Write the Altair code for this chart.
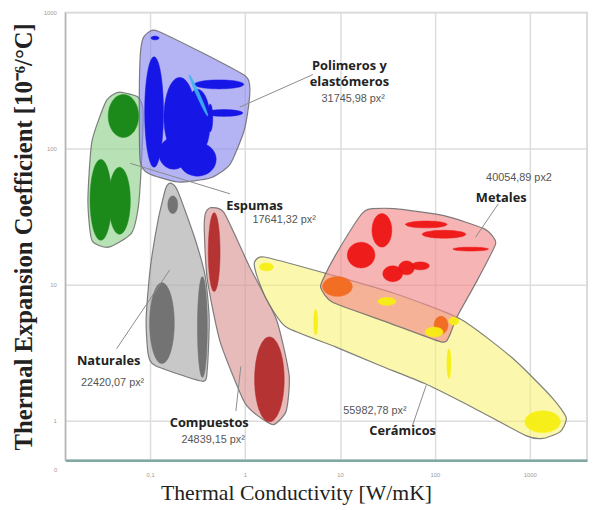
import math
import altair as alt
import pandas as pd

# ------------------------------------------------------------------
# Data: log10 of thermal conductivity k [W/mK] and log10 of thermal
# expansion coefficient alpha [1e-6/°C]
# ------------------------------------------------------------------

# Family envelopes (outline vertices)
foams_lk = [-1.301, -1.125, -1.073, -1.094, -1.125, -1.197, -1.436, -1.613, -1.655, -1.613, -1.468, -1.384]
foams_la = [2.413, 2.377, 2.268, 1.855, 1.565, 1.377, 1.275, 1.326, 1.616, 2.051, 2.341, 2.399]

polymers_lk = [-1.000, -1.073, -1.104, -1.114, -1.104, -1.021, -0.709, -0.366, -0.158, -0.013, 0.039, 0.049, -0.003, -0.449, -0.917]
polymers_la = [2.862, 2.812, 2.681, 2.304, 1.906, 1.819, 1.754, 1.783, 1.884, 2.123, 2.319, 2.464, 2.536, 2.703, 2.862]

naturals_lk = [-0.782, -0.709, -0.532, -0.418, -0.377, -0.397, -0.449, -0.948, -1.021, -1.042, -1.000, -0.917, -0.834]
naturals_la = [1.746, 1.688, 1.348, 1.058, 0.746, 0.384, 0.290, 0.406, 0.493, 0.746, 1.109, 1.471, 1.710]

composites_lk = [-0.366, -0.221, 0.049, 0.330, 0.465, 0.434, 0.299, 0.122, -0.013, -0.262, -0.397, -0.429, -0.418]
composites_la = [1.565, 1.529, 1.130, 0.746, 0.333, 0.072, -0.029, 0.043, 0.145, 0.580, 1.036, 1.399, 1.522]

ceramics_lk = [0.101, 0.205, 0.829, 1.577, 2.273, 2.823, 3.239, 3.384, 3.322, 3.135, 2.958, 2.408, 1.888, 1.421, 0.953, 0.434, 0.226, 0.122]
ceramics_la = [1.167, 1.203, 1.087, 0.935, 0.746, 0.457, 0.167, 0.022, -0.080, -0.130, -0.109, 0.094, 0.275, 0.406, 0.543, 0.688, 0.891, 1.072]

metals_lk = [1.338, 1.577, 2.096, 2.512, 2.616, 2.636, 2.439, 2.231, 2.148, 2.065, 1.494, 0.922, 0.797, 0.829, 0.953, 1.192, 1.265]
metals_la = [1.558, 1.558, 1.507, 1.413, 1.348, 1.290, 1.022, 0.761, 0.616, 0.580, 0.725, 0.870, 0.978, 1.051, 1.217, 1.486, 1.543]

# Individual materials (ellipses): centre, half ranges (decades), tilt
ell_group = (["Polimeros"] * 9 + ["Polimeros claro"] + ["Espumas"] * 3 + ["Naturales"] * 3
             + ["Compuestos"] * 2 + ["Metales"] * 8 + ["Metales/Ceramicos"] * 2 + ["Ceramicos"] * 7)
ell_lk = [-0.948, -0.958, -0.688, -0.501, -0.501, -0.751, -0.273, -0.221, -0.366,
          -0.491,
          -1.281, -1.519, -1.322,
          -0.761, -0.875, -0.449,
          -0.325, 0.257,
          1.442, 1.223, 1.909, 2.096, 2.377, 1.556, 1.701, 1.847,
          0.974, 2.065,
          0.226, 1.494, 1.992, 2.200, 0.745, 2.148, 3.135]
ell_la = [2.812, 2.268, 2.232, 2.196, 1.920, 1.964, 2.471, 2.261, 2.225,
          2.391,
          2.239, 1.623, 1.616,
          1.587, 0.717, 0.688,
          1.239, 0.304,
          1.399, 1.217, 1.442, 1.370, 1.261, 1.080, 1.123, 1.138,
          0.986, 0.703,
          1.130, 0.877, 0.652, 0.732, 0.725, 0.420, -0.007]
ell_hk = [0.042, 0.099, 0.166, 0.135, 0.197, 0.156, 0.260, 0.197, 0.026,
          0.099,
          0.160, 0.114, 0.114,
          0.052, 0.130, 0.052,
          0.062, 0.156,
          0.104, 0.145, 0.218, 0.229, 0.187, 0.104, 0.083, 0.094,
          0.156, 0.073,
          0.073, 0.094, 0.094, 0.052, 0.021, 0.021, 0.187]
ell_ha = [0.014, 0.406, 0.290, 0.239, 0.123, 0.116, 0.033, 0.025, 0.101,
          0.029,
          0.158, 0.297, 0.246,
          0.065, 0.297, 0.370,
          0.290, 0.312,
          0.123, 0.094, 0.025, 0.029, 0.014, 0.058, 0.051, 0.029,
          0.072, 0.065,
          0.029, 0.029, 0.036, 0.029, 0.094, 0.109, 0.080]
ell_tilt = [0.0] * 9 + [-1.51] + [0.0] * 25

# Annotations
label_names = ["Polimeros y", "elastómeros", "Espumas", "Metales", "Naturales", "Compuestos", "Cerámicos"]
label_lk = [1.099, 1.099, 0.101, 2.699, -1.436, -0.377, 1.660]
label_la = [2.609, 2.486, 1.580, 1.638, 0.435, -0.014, -0.072]

area_texts = ["31745,98 px²", "17641,32 px²", "40054,89 px2", "22420,07 px²", "24839,15 px²", "55982,78 px²"]
area_lk = [1.140, 0.413, 2.886, -1.395, -0.335, 1.369]
area_la = [2.362, 1.471, 1.783, 0.275, -0.145, 0.072]

leader_lk1 = [-0.055, -1.208, 2.429, -1.353, -0.096, 1.764]
leader_la1 = [2.304, 1.891, 1.348, 0.529, 0.072, -0.036]
leader_lk2 = [0.714, -0.158, 2.668, -0.792, -0.044, 1.909]
leader_la2 = [2.543, 1.667, 1.594, 1.109, 0.399, 0.261]

x_ticks = [0.1, 1, 10, 100, 1000]
y_ticks = [1, 10, 100, 1000]

# ------------------------------------------------------------------
# Styles
# ------------------------------------------------------------------
ENV_FILL = {
    "Espumas": ("#9ed69a", 0.72),
    "Polimeros": ("#8c8cf0", 0.65),
    "Naturales": ("#b0b0b0", 0.70),
    "Compuestos": ("#dc9696", 0.65),
    "Ceramicos": ("#f7f26a", 0.55),
    "Metales": ("#f28c8c", 0.65),
}
ELL_COLOR = {
    "Polimeros": ("#1616e6", 1.0),
    "Polimeros claro": ("#3fb4f2", 0.9),
    "Espumas": ("#1b8a1b", 1.0),
    "Naturales": ("#6f6f6f", 0.95),
    "Compuestos": ("#b32b2b", 0.95),
    "Metales": ("#ee1414", 0.95),
    "Metales/Ceramicos": ("#f06a1e", 0.95),
    "Ceramicos": ("#f6ee12", 0.95),
}

# ------------------------------------------------------------------
# Tables
# ------------------------------------------------------------------
envelopes = [
    ("Espumas", foams_lk, foams_la),
    ("Polimeros", polymers_lk, polymers_la),
    ("Naturales", naturals_lk, naturals_la),
    ("Compuestos", composites_lk, composites_la),
    ("Ceramicos", ceramics_lk, ceramics_la),
    ("Metales", metals_lk, metals_la),
]
env_rows = []
for g, lks, las in envelopes:
    for i, (lk, la) in enumerate(zip(lks, las)):
        env_rows.append({"g": g, "i": i, "k": 10 ** lk, "a": 10 ** la})
env_df = pd.DataFrame(env_rows)

N = 48
ell_rows = []
for j, g in enumerate(ell_group):
    col, op = ELL_COLOR[g]
    for n in range(N):
        t = 2 * math.pi * n / N
        lk = ell_lk[j] + ell_hk[j] * math.cos(t)
        la = ell_la[j] + ell_ha[j] * math.sin(t) + ell_tilt[j] * ell_hk[j] * math.cos(t)
        ell_rows.append({"id": j, "i": n, "g": g, "k": 10 ** lk, "a": 10 ** la, "col": col, "op": op})
ell_df = pd.DataFrame(ell_rows)

names_df = pd.DataFrame({"t": label_names, "k": [10 ** v for v in label_lk], "a": [10 ** v for v in label_la]})
areas_df = pd.DataFrame({"t": area_texts, "k": [10 ** v for v in area_lk], "a": [10 ** v for v in area_la]})
lead_df = pd.DataFrame({
    "k1": [10 ** v for v in leader_lk1], "a1": [10 ** v for v in leader_la1],
    "k2": [10 ** v for v in leader_lk2], "a2": [10 ** v for v in leader_la2],
})

# ------------------------------------------------------------------
# Scales & axes
# ------------------------------------------------------------------
W, H = 529, 454
xs = alt.Scale(type="log", domain=[10 ** -1.894, 10 ** 3.603], nice=False)
ys = alt.Scale(type="log", domain=[10 ** -0.29, 1000], nice=False)

x_axis = alt.Axis(
    values=x_ticks,
    labelExpr="datum.value < 0.5 ? '0,1' : format(datum.value, 'd')",
    ticks=False, labelFontSize=6, labelColor="#9a9a9a", labelPadding=11,
    grid=True, gridColor="#dddddd", gridWidth=1.5,
    domainColor="#7fa8a0", domainWidth=2.5,
    title="Thermal Conductivity [W/mK]", titleFont="Liberation Serif", titleFontSize=22,
    titleFontWeight="normal", titleColor="#222222", titleX=234, titleY=40,
    titleBaseline="alphabetic", titleAlign="center",
)
y_axis = alt.Axis(
    values=y_ticks, labelExpr="format(datum.value, 'd')",
    ticks=False, labelFontSize=6, labelColor="#9a9a9a", labelPadding=9,
    grid=True, gridColor="#dddddd", gridWidth=1.5,
    domainColor="#b5b5b5", domainWidth=1.5,
    title="Thermal Expansion Coefficient [10⁻⁶/°C]", titleFont="Liberation Serif",
    titleFontSize=25, titleFontWeight="bold", titleColor="#222222",
    titleX=-34, titleY=227, titleAngle=-90, titleBaseline="alphabetic", titleAlign="center",
)

X = alt.X("k:Q", scale=xs, axis=x_axis)
Y = alt.Y("a:Q", scale=ys, axis=y_axis)

layers = []
for g, _, _ in envelopes:
    fc, fo = ENV_FILL[g]
    layers.append(
        alt.Chart(env_df).transform_filter(alt.datum.g == g)
        .mark_line(interpolate="cardinal-closed", tension=0.4, fill=fc, fillOpacity=fo,
                   stroke="#6a6a6a", strokeWidth=1.2, strokeOpacity=0.85)
        .encode(x=X, y=Y, order=alt.Order("i:Q"))
    )

ell_main = (
    alt.Chart(ell_df).transform_filter(alt.datum.g != "Polimeros claro")
    .mark_line(interpolate="linear-closed", strokeWidth=0.5)
    .encode(x=X, y=Y, detail="id:N", order=alt.Order("i:Q"),
            fill=alt.Fill("col:N", scale=None), stroke=alt.Stroke("col:N", scale=None),
            fillOpacity=alt.FillOpacity("op:Q", scale=None))
)
ell_light = (
    alt.Chart(ell_df).transform_filter(alt.datum.g == "Polimeros claro")
    .mark_line(interpolate="linear-closed", strokeWidth=0.5)
    .encode(x=X, y=Y, detail="id:N", order=alt.Order("i:Q"),
            fill=alt.Fill("col:N", scale=None), stroke=alt.Stroke("col:N", scale=None),
            fillOpacity=alt.FillOpacity("op:Q", scale=None))
)
layers += [ell_main, ell_light]

leaders = alt.Chart(lead_df).mark_rule(color="#8a8a8a", strokeWidth=1).encode(
    x=alt.X("k1:Q", scale=xs, axis=x_axis), y=alt.Y("a1:Q", scale=ys, axis=y_axis),
    x2="k2:Q", y2="a2:Q")
names = alt.Chart(names_df).mark_text(font="Open Sans", fontWeight="bold", fontSize=13,
                                      color="#222222", align="center", baseline="middle").encode(
    x=X, y=Y, text="t:N")
areas = alt.Chart(areas_df).mark_text(font="Liberation Sans", fontSize=11,
                                      color="#555555", align="center", baseline="middle").encode(
    x=X, y=Y, text="t:N")
zero_lbl = alt.Chart(pd.DataFrame({"t": ["0"]})).mark_text(
    fontSize=6, color="#9a9a9a", align="right", baseline="middle").encode(
    x=alt.value(-8), y=alt.value(H + 10), text="t:N")

layers += [leaders, names, areas, zero_lbl]

chart = (
    alt.layer(*layers)
    .properties(width=W, height=H, autosize=alt.AutoSizeParams(type="none"),
                padding={"left": 58, "top": 1, "right": 3, "bottom": 47}, background="white")
    .configure_view(stroke="#d0d0d0", strokeWidth=1.5)
)

chart.save("out.html", embed_options={"renderer": "svg", "actions": False})
